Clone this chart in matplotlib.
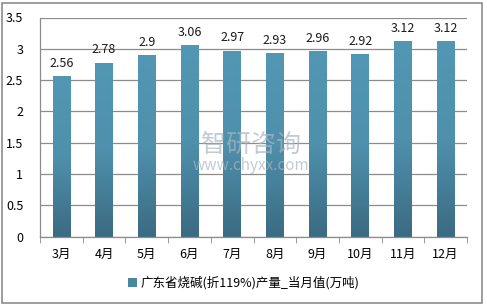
import numpy as np
import matplotlib
matplotlib.use("Agg")
import matplotlib.pyplot as plt
from matplotlib.patches import Rectangle
from matplotlib.colors import LinearSegmentedColormap

plt.rcParams['font.family'] = ['Noto Sans CJK SC', 'DejaVu Sans']

months = ["3月", "4月", "5月", "6月", "7月", "8月", "9月", "10月", "11月", "12月"]
values = [2.56, 2.78, 2.9, 3.06, 2.97, 2.93, 2.96, 2.92, 3.12, 3.12]
series_name = "广东省烧碱(折119%)产量_当月值(万吨)"
yticks = [0, 0.5, 1, 1.5, 2, 2.5, 3, 3.5]

fig = plt.figure(figsize=(4.87, 3.06), dpi=100)
fig.patches.append(Rectangle((2 / 487, 3 / 306), 480 / 487, 300 / 306, transform=fig.transFigure,
                             fill=False, edgecolor="#8c8c8c", linewidth=1.2))

ax = fig.add_axes([40 / 487, 1 - 236.5 / 306, 427 / 487, 219 / 306])

cmap = LinearSegmentedColormap.from_list("bar", ["#3b6b82", "#4f90ac", "#5297b4"])
grad = np.linspace(0, 1, 256).reshape(-1, 1)
x = np.arange(len(months))
bars = ax.bar(x, values, width=0.41, color="none", edgecolor="none", zorder=2)
for b, v in zip(bars, values):
    im = ax.imshow(grad, cmap=cmap, origin="lower", aspect="auto",
                   extent=[b.get_x(), b.get_x() + b.get_width(), 0, v], zorder=2)
    im.set_clip_path(b)
    ax.text(b.get_x() + b.get_width() / 2, v + 0.1, f"{v:g}", ha="center", va="bottom",
            fontsize=9, color="#1a1a1a")
ax.set_xlim(-0.5, len(months) - 0.5)
ax.set_ylim(0, 3.5)

ax.set_yticks(yticks)
ax.set_yticklabels([f"{t:g}" for t in yticks], fontsize=9)
ax.grid(axis="y", color="#8c8c8c", linewidth=0.9, zorder=0)
ax.set_axisbelow(True)
ax.tick_params(axis="y", length=0, pad=12)
ax.set_xticks(x)
ax.set_xticklabels(months, fontsize=9)
ax.set_xticks(np.arange(-0.5, len(months)), minor=True)
ax.tick_params(axis="x", which="major", length=0, pad=8)
ax.tick_params(axis="x", which="minor", length=4, color="#8c8c8c", direction="out")
for s in ["top", "right"]:
    ax.spines[s].set_visible(False)
for s in ["left", "bottom"]:
    ax.spines[s].set_color("#8c8c8c")
    ax.spines[s].set_linewidth(0.9)

# watermark
fig.text(0.515, 1 - 145 / 306, "智研咨询", fontsize=18, color="#a9b6bf", alpha=0.7, ha="center", va="center")
fig.text(0.515, 1 - 166 / 306, "www.chyxx.com", fontsize=11, color="#a9b6bf", alpha=0.7, ha="center", va="center")

handle = Rectangle((0, 0), 1, 1, facecolor="#4a87a2")
fig.legend([handle], [series_name], loc="center", bbox_to_anchor=(0.5, 1 - 283 / 306),
           frameon=False, fontsize=9, handlelength=0.7, handleheight=0.7, handletextpad=0.3)

fig.savefig("out.png", dpi=100)
